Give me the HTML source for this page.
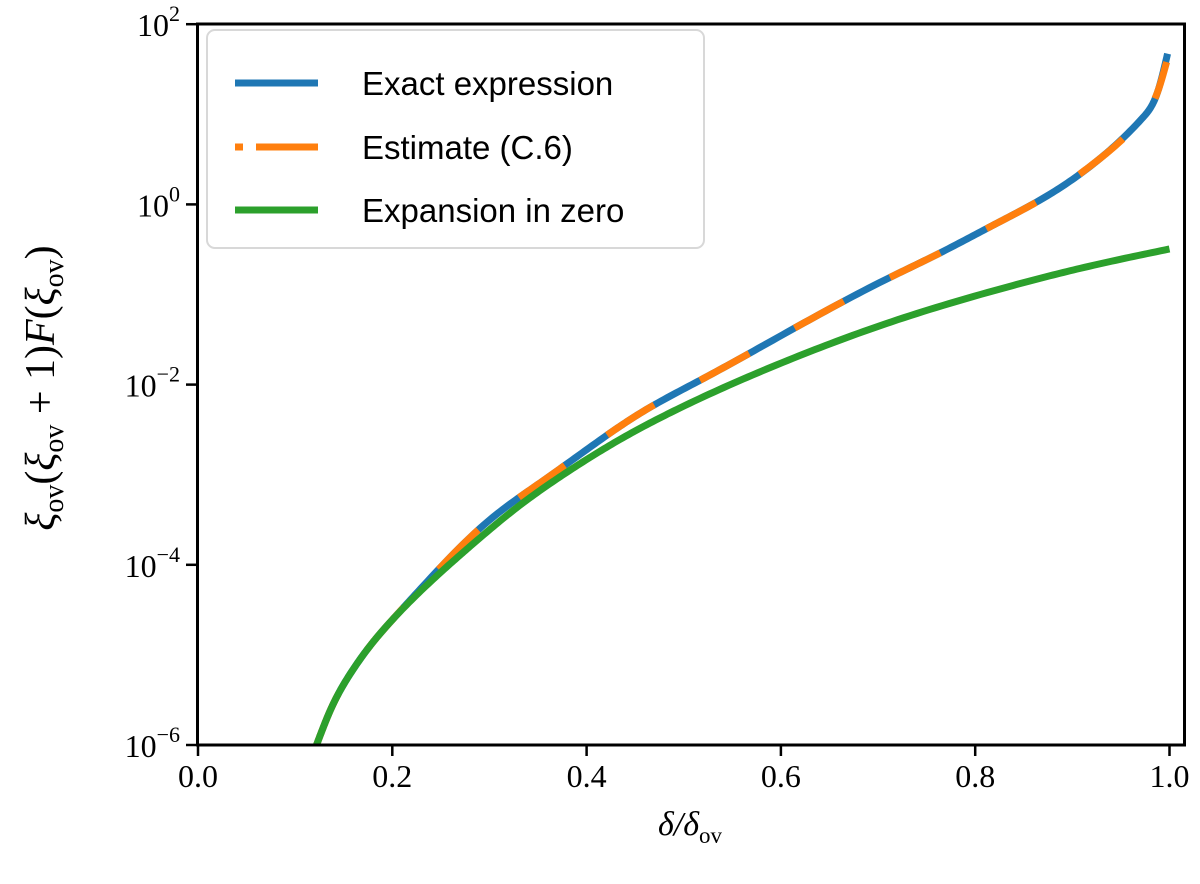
<!DOCTYPE html>
<html><head><meta charset="utf-8"><style>
body{margin:0;background:#fff;}
svg{display:block;}
text{font-family:"Liberation Serif",serif;fill:#000;}
.sans{font-family:"Liberation Sans",sans-serif;}
</style></head><body>
<svg id="chart" width="1200" height="884">
<g id="plot"></g>
<rect x="197.5" y="24" width="987" height="721" fill="none" stroke="#000" stroke-width="3"/>
<g id="ticks"></g>
<text x="690" y="835" font-size="34" text-anchor="middle" font-style="italic">δ/δ<tspan font-style="normal" font-size="23" dy="8">ov</tspan></text>
<text transform="translate(54,388) rotate(-90)" font-size="42" text-anchor="middle" font-style="italic">ξ<tspan font-style="normal" font-size="28" dy="9">ov</tspan><tspan font-style="normal" dy="-9">(</tspan>ξ<tspan font-style="normal" font-size="28" dy="9">ov</tspan><tspan font-style="normal" dy="-9"> + 1)</tspan>F<tspan font-style="normal">(</tspan>ξ<tspan font-style="normal" font-size="28" dy="9">ov</tspan><tspan font-style="normal" dy="-9">)</tspan></text>
<g>
<rect x="207" y="30" width="497" height="218" rx="8" fill="#fff" fill-opacity="0.85" stroke="#d8d8d8" stroke-width="2"/>
<line x1="235" y1="83" x2="318" y2="83" stroke="#1f77b4" stroke-width="7"/>
<text class="sans" x="362" y="95" font-size="33">Exact expression</text>
<line x1="235" y1="147" x2="318" y2="147" stroke="#ff7f0e" stroke-width="7" stroke-dasharray="8 13 62"/>
<text class="sans" x="362" y="159" font-size="33">Estimate (C.6)</text>
<line x1="235" y1="210" x2="318" y2="210" stroke="#2ca02c" stroke-width="7"/>
<text class="sans" x="362" y="222" font-size="33">Expansion in zero</text>
</g>
</svg>
<script>
const xTicks=[0.0,0.2,0.4,0.6,0.8,1.0];
const xTickLabels=["0.0","0.2","0.4","0.6","0.8","1.0"];
const yTickExps=[2,0,-2,-4,-6];
const exactX=[0.122,0.136,0.156,0.180,0.200,0.229,0.301,0.352,0.403,0.455,0.517,0.596,0.707,0.764,0.820,0.877,0.928,0.973,0.988,0.998];
const exactY=[1e-6,2.4e-6,6.0e-6,1.38e-5,2.45e-5,5.4e-5,3.2e-4,8.1e-4,2.0e-3,4.8e-3,0.0112,0.033,0.145,0.29,0.60,1.3,3.2,9.3,18,47];
const estX=[0.122,0.136,0.156,0.180,0.200,0.229,0.301,0.352,0.403,0.455,0.517,0.596,0.707,0.764,0.820,0.877,0.928,0.973,0.988,0.997];
const estY=[1e-6,2.4e-6,6.0e-6,1.38e-5,2.45e-5,5.4e-5,3.2e-4,8.1e-4,2.0e-3,4.8e-3,0.0112,0.033,0.145,0.29,0.60,1.3,3.2,9.3,18,38];
const expX=[0.122,0.136,0.156,0.180,0.200,0.249,0.280,0.328,0.380,0.434,0.496,0.596,0.707,0.839,0.908,1.0];
const expY=[1e-6,2.4e-6,6.0e-6,1.38e-5,2.45e-5,8.1e-5,1.6e-4,4.3e-4,1.07e-3,2.45e-3,5.5e-3,0.0166,0.047,0.126,0.195,0.32];
const NS="http://www.w3.org/2000/svg";
function sx(v){return 198+v*971.5;}
function sy(v){return 745-(Math.log10(v)+6)*90.1;}
// natural cubic spline through (x, log10 y), sampled for rendering
function pathFrom(xs,ys){
  const n=xs.length, L=ys.map(v=>Math.log10(v));
  const h=[],al=[],l=[1],mu=[0],z=[0],c=new Array(n).fill(0),b=[],d=[];
  for(let i=0;i<n-1;i++)h.push(xs[i+1]-xs[i]);
  for(let i=1;i<n-1;i++)al[i]=3/h[i]*(L[i+1]-L[i])-3/h[i-1]*(L[i]-L[i-1]);
  for(let i=1;i<n-1;i++){l[i]=2*(xs[i+1]-xs[i-1])-h[i-1]*mu[i-1];mu[i]=h[i]/l[i];z[i]=(al[i]-h[i-1]*z[i-1])/l[i];}
  for(let j=n-2;j>=0;j--){c[j]=(j<n-1&&j>0?z[j]-mu[j]*c[j+1]:0);if(j===0)c[0]=0;b[j]=(L[j+1]-L[j])/h[j]-h[j]*(c[j+1]+2*c[j])/3;d[j]=(c[j+1]-c[j])/(3*h[j]);}
  let s="";
  for(let i=0;i<n-1;i++){
    const steps=20;
    for(let k=(i===0?0:1);k<=steps;k++){
      const t=h[i]*k/steps;
      const lv=L[i]+b[i]*t+c[i]*t*t+d[i]*t*t*t;
      const X=sx(xs[i]+t), Y=745-(lv+6)*90.1;
      s+=(s?" L":"M")+X.toFixed(2)+","+Y.toFixed(2);
    }
  }
  return s;
}
const plot=document.getElementById('plot');
const clip=document.createElementNS(NS,'clipPath');clip.id='clp';
const cr=document.createElementNS(NS,'rect');cr.setAttribute('x',197);cr.setAttribute('y',24);cr.setAttribute('width',988);cr.setAttribute('height',721);
clip.appendChild(cr);plot.appendChild(clip);
plot.setAttribute('clip-path','url(#clp)');
function addLine(xs,ys,color,dash,name){
  const el=document.createElementNS(NS,'path');
  el.setAttribute('d',pathFrom(xs,ys));
  el.setAttribute('fill','none');el.setAttribute('stroke',color);el.setAttribute('stroke-width','7');
  el.setAttribute('stroke-linejoin','round');
  if(dash)el.setAttribute('stroke-dasharray',dash);
  
  
  plot.appendChild(el);
}
addLine(exactX,exactY,'#1f77b4',null,'exact-expression-line');
addLine(estX,estY,'#ff7f0e','56 52','estimate-line');
addLine(expX,expY,'#2ca02c',null,'expansion-line');
const tg=document.getElementById('ticks');
xTicks.forEach((v,i)=>{
  const l=document.createElementNS(NS,'line');
  l.setAttribute('x1',sx(v));l.setAttribute('x2',sx(v));l.setAttribute('y1',745);l.setAttribute('y2',756);
  l.setAttribute('stroke','#000');l.setAttribute('stroke-width','2.5');
  
  
  tg.appendChild(l);
  const t=document.createElementNS(NS,'text');
  t.setAttribute('x',sx(v));t.setAttribute('y',787);t.setAttribute('font-size','32');t.setAttribute('text-anchor','middle');
  t.textContent=xTickLabels[i];
  
  
  tg.appendChild(t);
});
yTickExps.forEach(e=>{
  const y=sy(Math.pow(10,e));
  const l=document.createElementNS(NS,'line');
  l.setAttribute('x1',186);l.setAttribute('x2',197);l.setAttribute('y1',y);l.setAttribute('y2',y);
  l.setAttribute('stroke','#000');l.setAttribute('stroke-width','2.5');
  
  
  tg.appendChild(l);
  const t=document.createElementNS(NS,'text');
  t.setAttribute('x',180);t.setAttribute('y',y+12);t.setAttribute('font-size','32');t.setAttribute('text-anchor','end');
  t.innerHTML='10<tspan font-size="22" dy="-15">'+(e<0?'−'+(-e):e)+'</tspan>';
  
  
  tg.appendChild(t);
});
</script>
</body></html>
